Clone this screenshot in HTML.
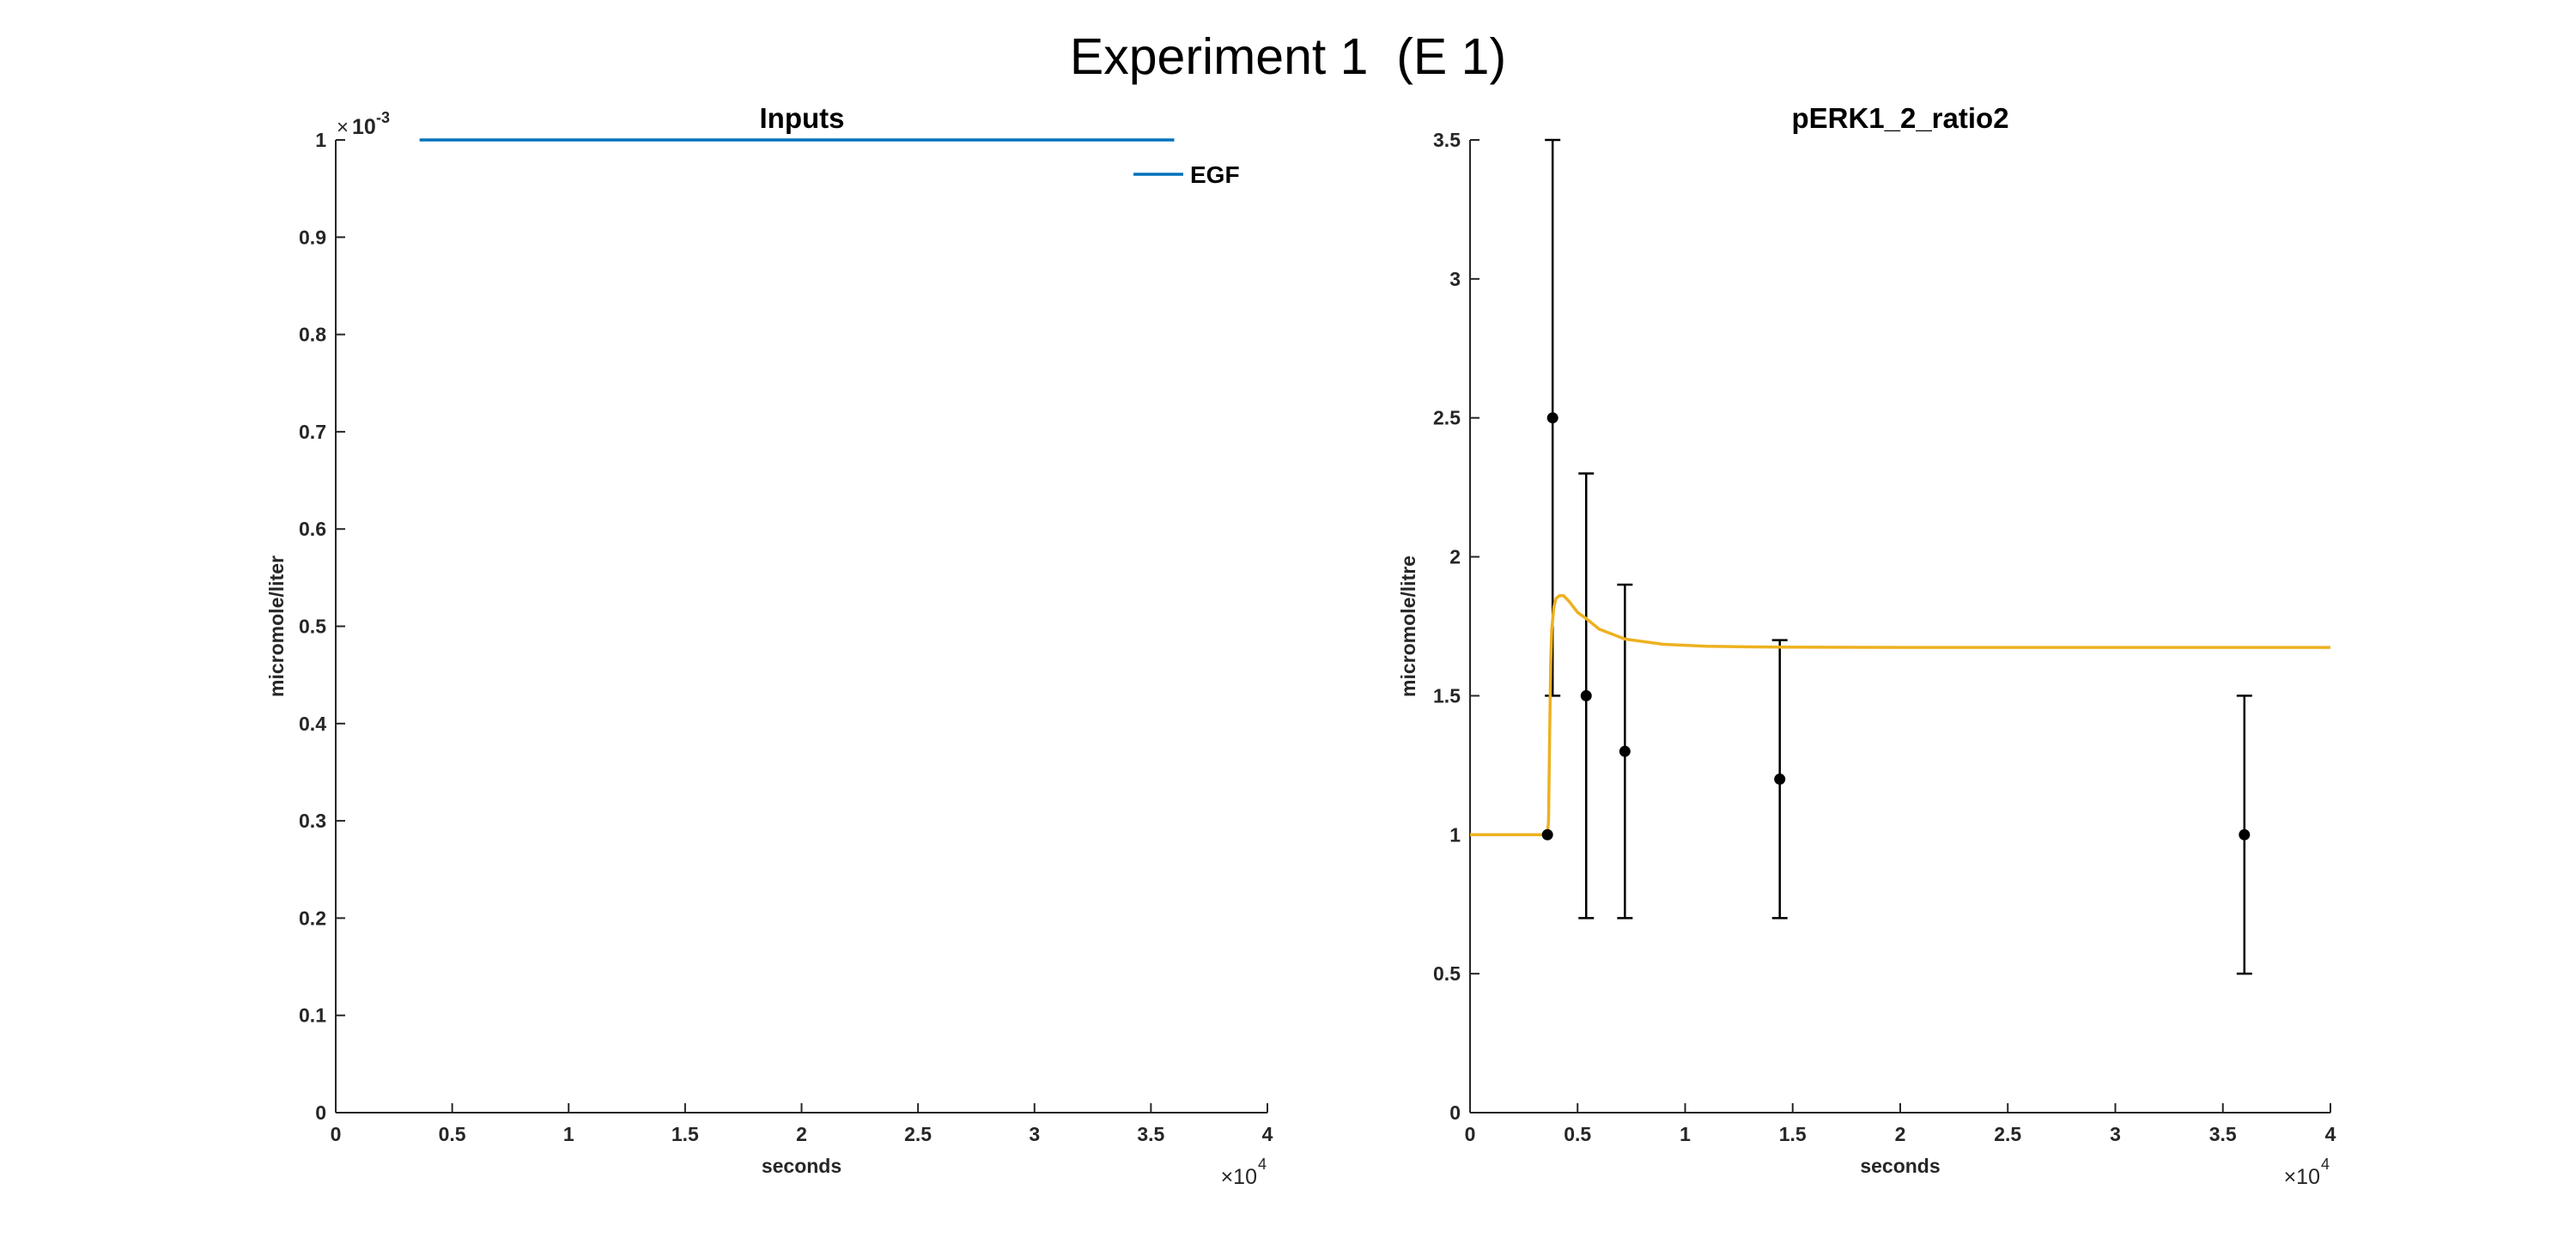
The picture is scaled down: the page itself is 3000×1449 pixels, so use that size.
<!DOCTYPE html>
<html><head><meta charset="utf-8"><style>
body{margin:0;background:#fff;}
svg{display:block;font-family:"Liberation Sans",Arial,sans-serif;}
.tk{font-size:23px;font-weight:bold;fill:#262626;}
</style></head><body>
<svg id="fig" width="3000" height="1449" viewBox="0 0 3000 1449">
<rect width="3000" height="1449" fill="#fff"/>
<text x="1500" y="86" text-anchor="middle" font-size="59" fill="#000" style="white-space:pre">Experiment 1  (E 1)</text>
<g id="left"></g>
<g id="right"></g>
</svg>
<script>
// Inputs panel data
const inputTimes = [3600, 36000];
const inputValues = [0.001, 0.001];
const leftYTicks = [0,0.0001,0.0002,0.0003,0.0004,0.0005,0.0006,0.0007,0.0008,0.0009,0.001];
const xTicks = [0,0.5,1,1.5,2,2.5,3,3.5,4];
// pERK panel data
const obsTimes = [3600, 3840, 5400, 7200, 14400, 36000];
const obsValues = [1.0, 2.5, 1.5, 1.3, 1.2, 1.0];
const obsErrors = [0, 1.0, 0.8, 0.6, 0.5, 0.5];
const simTimes = [0, 3600, 3650, 3700, 3750, 3800, 3900, 4000, 4150, 4350, 4600, 5000, 5400, 6000, 7200, 9000, 11000, 14400, 20000, 30000, 40000];
const simValues = [1.0, 1.0, 1.05, 1.35, 1.62, 1.74, 1.82, 1.85, 1.86, 1.86, 1.84, 1.80, 1.778, 1.74, 1.704, 1.685, 1.678, 1.675, 1.674, 1.674, 1.674];
const rightYTicks = [0,0.5,1,1.5,2,2.5,3,3.5];

const NS="http://www.w3.org/2000/svg";
function mk(parent,tag,attrs,text){const e=document.createElementNS(NS,tag);for(const k in attrs)e.setAttribute(k,attrs[k]);if(text!==undefined)e.textContent=text;parent.appendChild(e);return e;}

function axes(g,x0,x1,yTop,yBot,yMax,yTicks,yFmt,ylabel,lblX,title,titleX){
  const sx=v=>x0+(v/40000)*(x1-x0);
  const sy=v=>yBot-(v/yMax)*(yBot-yTop);
  let e=mk(g,'line',{x1:x0,y1:yTop,x2:x0,y2:yBot,stroke:'#262626','stroke-width':2});
  
  
  e=mk(g,'line',{x1:x0,y1:yBot,x2:x1,y2:yBot,stroke:'#262626','stroke-width':2});
  
  
  yTicks.forEach(t=>{const y=sy(t);
    mk(g,'line',{x1:x0,y1:y,x2:x0+11,y2:y,stroke:'#262626','stroke-width':2});
    const tx=mk(g,'text',{x:x0-11,y:y+8,'text-anchor':'end',class:'tk'},yFmt(t));
    
    
  });
  xTicks.forEach(t=>{const x=sx(t*10000);
    mk(g,'line',{x1:x,y1:yBot,x2:x,y2:yBot-11,stroke:'#262626','stroke-width':2});
    const tx=mk(g,'text',{x:x,y:yBot+33,'text-anchor':'middle',class:'tk'},String(t));
    
    
  });
  e=mk(g,'text',{x:(x0+x1)/2,y:1366,'text-anchor':'middle','font-size':23,'font-weight':'bold',fill:'#262626'},'seconds');
  
  
  e=mk(g,'text',{x:x1-12,y:1379,'text-anchor':'end','font-size':25,fill:'#262626'},'×10');
  
  
  mk(g,'text',{x:x1-11,y:1362,'font-size':18,fill:'#262626'},'4');
  e=mk(g,'text',{x:lblX,y:(yTop+yBot)/2,'text-anchor':'middle','font-size':23,'font-weight':'bold',fill:'#262626',transform:`rotate(-90 ${lblX} ${(yTop+yBot)/2})`},ylabel);
  
  
  e=mk(g,'text',{x:titleX,y:149,'text-anchor':'middle','font-size':33,'font-weight':'bold',fill:'#000'},title);
  
  
  return {sx,sy};
}

// Left panel
const L=document.getElementById('left');
const la=axes(L,391,1476,163,1296,0.001,leftYTicks,t=>String(+(t*1000).toFixed(1)),'micromole/liter',330,'Inputs',934);
let ex=mk(L,'text',{x:392,y:156,'font-size':24,fill:'#262626'},'×');


mk(L,'text',{x:410,y:156,'font-size':25,'font-weight':'bold',fill:'#262626'},'10');
mk(L,'text',{x:438,y:143,'font-size':18,'font-weight':'bold',fill:'#262626'},'-3');
let pl=mk(L,'polyline',{points:inputTimes.map((t,i)=>la.sx(t)+','+la.sy(inputValues[i])).join(' '),fill:'none',stroke:'#0072BD','stroke-width':3.5});


let lg=mk(L,'line',{x1:1320,y1:203,x2:1378,y2:203,stroke:'#0072BD','stroke-width':3.5});


lg=mk(L,'text',{x:1386,y:213,'font-size':28,'font-weight':'bold',fill:'#000'},'EGF');



// Right panel
const R=document.getElementById('right');
const ra=axes(R,1712,2714,163,1296,3.5,rightYTicks,t=>String(t),'micromole/litre',1648,'pERK1_2_ratio2',2213);
obsTimes.forEach((t,i)=>{
  const x=ra.sx(t),v=obsValues[i],e=obsErrors[i];
  if(e>0){
    const y1=ra.sy(v-e),y2=ra.sy(v+e);
    const g=mk(R,'g',{});
    
    
    mk(g,'line',{x1:x,y1:y1,x2:x,y2:y2,stroke:'#000','stroke-width':2.5});
    mk(g,'line',{x1:x-9,y1:y1,x2:x+9,y2:y1,stroke:'#000','stroke-width':2.5});
    mk(g,'line',{x1:x-9,y1:y2,x2:x+9,y2:y2,stroke:'#000','stroke-width':2.5});
  }
});
let sim=mk(R,'polyline',{points:simTimes.map((t,i)=>ra.sx(t)+','+ra.sy(simValues[i])).join(' '),fill:'none',stroke:'#EDB120','stroke-width':3.5,'stroke-linejoin':'round'});


obsTimes.forEach((t,i)=>{
  const c=mk(R,'circle',{cx:ra.sx(t),cy:ra.sy(obsValues[i]),r:6.5,fill:'#000'});
  
  
});
</script>
</body></html>
